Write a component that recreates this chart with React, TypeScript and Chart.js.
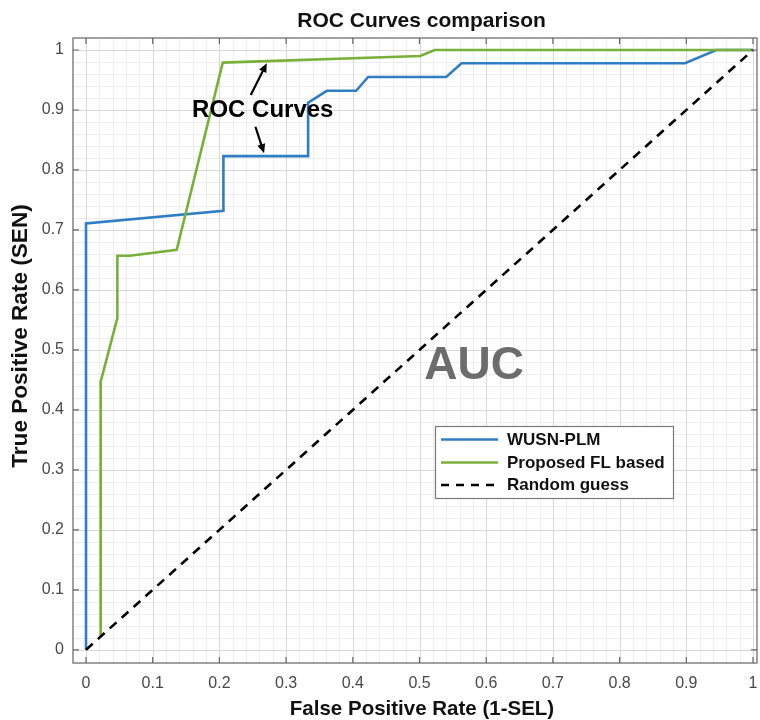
import React, { useEffect, useRef } from 'react';
import { Chart, registerables } from 'chart.js';

Chart.register(...registerables);

// ---- data ----
const WUSN_FPR = [0, 0, 0.206, 0.206, 0.333, 0.333, 0.361, 0.405, 0.423, 0.54, 0.563, 0.898, 0.945, 1];
const WUSN_TPR = [0, 0.711, 0.732, 0.823, 0.823, 0.912, 0.932, 0.932, 0.955, 0.955, 0.978, 0.978, 1, 1];
const FL_FPR = [0.022, 0.022, 0.047, 0.047, 0.066, 0.136, 0.205, 0.501, 0.523, 1];
const FL_TPR = [0.022, 0.447, 0.553, 0.657, 0.657, 0.667, 0.979, 0.99, 1, 1];
const RANDOM_FPR = [0, 1];
const RANDOM_TPR = [0, 1];
const X_TICKS = [0, 0.1, 0.2, 0.3, 0.4, 0.5, 0.6, 0.7, 0.8, 0.9, 1];
const Y_TICKS = [0, 0.1, 0.2, 0.3, 0.4, 0.5, 0.6, 0.7, 0.8, 0.9, 1];
const TICK_LABELS = ['0', '0.1', '0.2', '0.3', '0.4', '0.5', '0.6', '0.7', '0.8', '0.9', '1'];
const MINOR_TICKS = [0.02, 0.04, 0.06, 0.08, 0.12, 0.14, 0.16, 0.18, 0.22, 0.24, 0.26, 0.28, 0.32, 0.34, 0.36, 0.38, 0.42, 0.44, 0.46, 0.48, 0.52, 0.54, 0.56, 0.58, 0.62, 0.64, 0.66, 0.68, 0.72, 0.74, 0.76, 0.78, 0.82, 0.84, 0.86, 0.88, 0.92, 0.94, 0.96, 0.98];
const SERIES_NAMES = ['WUSN-PLM', 'Proposed FL based', 'Random guess'];
const TITLE = 'ROC Curves comparison';
const X_TITLE = 'False Positive Rate (1-SEL)';
const Y_TITLE = 'True Positive Rate (SEN)';

const BLUE = '#2f7dc4';
const GREEN = '#79b03a';
const FONT = '"Liberation Sans", Arial, Helvetica, sans-serif';

const pts = (xs: number[], ys: number[]) => xs.map((x, i) => ({ x, y: ys[i] }));

function txt(ctx: CanvasRenderingContext2D, s: string, x: number, y: number, size: number, o: { color?: string; align?: CanvasTextAlign; sx?: number; rot?: number; weight?: string } = {}) {
  ctx.save();
  ctx.translate(x, y);
  if (o.rot) ctx.rotate(o.rot);
  ctx.scale(o.sx ?? 1, 1);
  ctx.font = `${o.weight ?? 'bold'} ${size}px ${FONT}`;
  ctx.fillStyle = o.color ?? '#111';
  ctx.textAlign = o.align ?? 'center';
  ctx.textBaseline = 'middle';
  ctx.fillText(s, 0, 0);
  ctx.restore();
}

function arrow(ctx: CanvasRenderingContext2D, x0: number, y0: number, x1: number, y1: number) {
  const a = Math.atan2(y1 - y0, x1 - x0);
  const hl = 9, hw = 4;
  ctx.save();
  ctx.strokeStyle = '#000';
  ctx.fillStyle = '#000';
  ctx.lineWidth = 2.2;
  ctx.beginPath();
  ctx.moveTo(x0, y0);
  ctx.lineTo(x1 - Math.cos(a) * hl * 0.8, y1 - Math.sin(a) * hl * 0.8);
  ctx.stroke();
  ctx.beginPath();
  ctx.moveTo(x1, y1);
  ctx.lineTo(x1 - Math.cos(a) * hl - Math.sin(a) * hw, y1 - Math.sin(a) * hl + Math.cos(a) * hw);
  ctx.lineTo(x1 - Math.cos(a) * hl + Math.sin(a) * hw, y1 - Math.sin(a) * hl - Math.cos(a) * hw);
  ctx.closePath();
  ctx.fill();
  ctx.restore();
}

const decor = {
  id: 'decor',
  beforeDatasetsDraw(chart: any) {
    const ctx: CanvasRenderingContext2D = chart.ctx;
    const { left, right, top, bottom } = chart.chartArea;
    const xs = chart.scales.x, ys = chart.scales.y;
    ctx.save();
    ctx.fillStyle = '#fff';
    ctx.fillRect(left, top, right - left, bottom - top);
    ctx.lineWidth = 1;
    ctx.strokeStyle = '#ededed';
    ctx.beginPath();
    MINOR_TICKS.forEach(v => {
      const px = Math.round(xs.getPixelForValue(v)) + 0.5;
      ctx.moveTo(px, top); ctx.lineTo(px, bottom);
      const py = Math.round(ys.getPixelForValue(v)) + 0.5;
      ctx.moveTo(left, py); ctx.lineTo(right, py);
    });
    ctx.stroke();
    ctx.strokeStyle = '#d8d8d8';
    ctx.beginPath();
    X_TICKS.forEach(v => {
      const px = Math.round(xs.getPixelForValue(v)) + 0.5;
      ctx.moveTo(px, top); ctx.lineTo(px, bottom);
    });
    Y_TICKS.forEach(v => {
      const py = Math.round(ys.getPixelForValue(v)) + 0.5;
      ctx.moveTo(left, py); ctx.lineTo(right, py);
    });
    ctx.stroke();
    ctx.restore();
  },
  afterDatasetsDraw(chart: any) {
    const ctx: CanvasRenderingContext2D = chart.ctx;
    const { left, right, top, bottom } = chart.chartArea;
    const xs = chart.scales.x, ys = chart.scales.y;
    ctx.save();
    // box
    ctx.strokeStyle = '#8a8a8a';
    ctx.lineWidth = 1.6;
    ctx.strokeRect(left, top, right - left, bottom - top);
    // inward ticks
    ctx.strokeStyle = '#666';
    ctx.lineWidth = 1.2;
    ctx.beginPath();
    const tl = 6;
    X_TICKS.forEach(v => {
      const px = xs.getPixelForValue(v);
      ctx.moveTo(px, bottom); ctx.lineTo(px, bottom - tl);
      ctx.moveTo(px, top); ctx.lineTo(px, top + tl);
    });
    Y_TICKS.forEach(v => {
      const py = ys.getPixelForValue(v);
      ctx.moveTo(left, py); ctx.lineTo(left + tl, py);
      ctx.moveTo(right, py); ctx.lineTo(right - tl, py);
    });
    ctx.stroke();
    ctx.restore();

    // annotations (data coordinates)
    const X = (v: number) => xs.getPixelForValue(v);
    const Y = (v: number) => ys.getPixelForValue(v);
    txt(ctx, 'ROC Curves', X(0.265), Y(0.899), 24, { color: '#000' });
    arrow(ctx, X(0.247), Y(0.925), X(0.271), Y(0.978));
    arrow(ctx, X(0.254), Y(0.872), X(0.267), Y(0.828));
    txt(ctx, 'AUC', X(0.582), Y(0.472), 46, { color: '#6c6c6c' });

    // legend
    const lx = 435, ly = 426, lw = 238, lh = 72;
    ctx.save();
    ctx.fillStyle = '#fff';
    ctx.fillRect(lx, ly, lw, lh);
    ctx.strokeStyle = '#7a7a7a';
    ctx.lineWidth = 1.2;
    ctx.strokeRect(lx + 0.5, ly + 0.5, lw, lh);
    const rows = [13.5, 36.5, 59];
    const colors = [BLUE, GREEN, '#000'];
    rows.forEach((ry, i) => {
      ctx.strokeStyle = colors[i];
      ctx.lineWidth = 2.5;
      ctx.setLineDash(i === 2 ? [8, 7] : []);
      ctx.beginPath();
      ctx.moveTo(lx + 6, ly + ry);
      ctx.lineTo(lx + 63, ly + ry);
      ctx.stroke();
      ctx.setLineDash([]);
      txt(ctx, SERIES_NAMES[i], lx + 72, ly + ry + 0.5, 17, { align: 'left', color: '#111' });
    });
    ctx.restore();
  },
  afterDraw(chart: any) {
    const ctx: CanvasRenderingContext2D = chart.ctx;
    txt(ctx, TITLE, 421.5, 21, 21, { color: '#111' });
    txt(ctx, X_TITLE, 422, 709.5, 20.5, { color: '#111' });
    txt(ctx, Y_TITLE, 21, 336, 21.5, { color: '#111', rot: -Math.PI / 2, sx: 1.05 });
  },
};

const zeroPad = (s: any) => { s.paddingLeft = 0; s.paddingRight = 0; s.paddingTop = 0; s.paddingBottom = 0; };

export default function App() {
  const ref = useRef<HTMLCanvasElement>(null);
  useEffect(() => {
    document.body.style.margin = '0';
    const canvas = ref.current!;
    const tickFont = { family: FONT, size: 16 };
    const chart = new Chart(canvas, {
      type: 'line',
      data: {
        datasets: [
          { label: SERIES_NAMES[0], data: pts(WUSN_FPR, WUSN_TPR), borderColor: BLUE, borderWidth: 2.6, pointRadius: 0, tension: 0, fill: false, order: 2 },
          { label: SERIES_NAMES[1], data: pts(FL_FPR, FL_TPR), borderColor: GREEN, borderWidth: 2.6, pointRadius: 0, tension: 0, fill: false, order: 1 },
          { label: SERIES_NAMES[2], data: pts(RANDOM_FPR, RANDOM_TPR), borderColor: '#000', borderWidth: 2.6, borderDash: [9, 7], pointRadius: 0, tension: 0, fill: false, order: 0 },
        ],
      },
      options: {
        responsive: false,
        animation: false,
        devicePixelRatio: 1,
        layout: { padding: { top: 38, right: 3, left: 0, bottom: 0 } },
        plugins: { legend: { display: false }, tooltip: { enabled: false }, title: { display: false } },
        scales: {
          x: {
            type: 'linear',
            min: -0.0195,
            max: 1.006,
            afterBuildTicks: (s: any) => { s.ticks = X_TICKS.map(v => ({ value: v })); },
            afterFit: (s: any) => { s.height = 57; zeroPad(s); },
            ticks: { callback: (_v: any, i: number) => TICK_LABELS[i], font: tickFont, color: '#484848', padding: 11, maxRotation: 0, autoSkip: false },
            grid: { display: false, drawTicks: false },
            border: { display: false },
          },
          y: {
            type: 'linear',
            min: -0.022,
            max: 1.02,
            afterBuildTicks: (s: any) => { s.ticks = Y_TICKS.map(v => ({ value: v })); },
            afterFit: (s: any) => { s.width = 73; zeroPad(s); },
            ticks: { callback: (_v: any, i: number) => TICK_LABELS[i], font: tickFont, color: '#484848', padding: 9, autoSkip: false },
            grid: { display: false, drawTicks: false },
            border: { display: false },
          },
        },
      } as any,
      plugins: [decor],
    });
    return () => chart.destroy();
  }, []);
  return <canvas ref={ref} width={760} height={720} style={{ display: 'block', width: 760, height: 720 }} />;
}
